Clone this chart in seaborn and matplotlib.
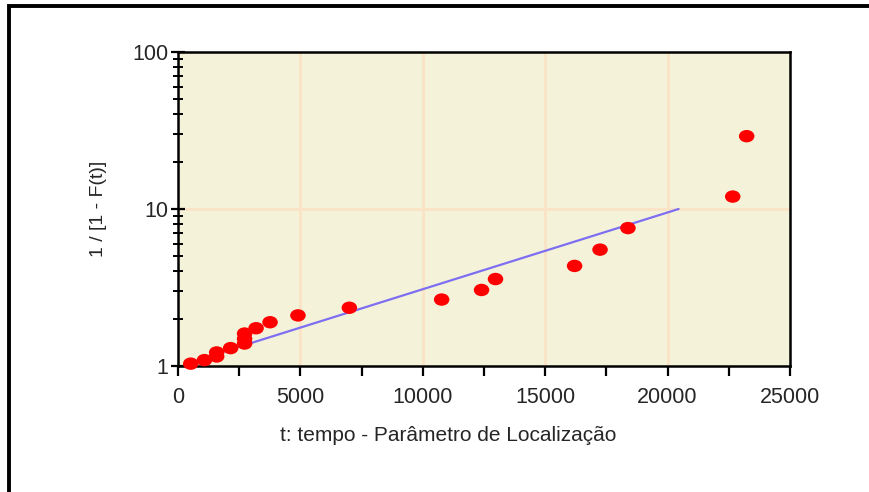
import matplotlib
matplotlib.use("Agg")
import matplotlib.pyplot as plt
import matplotlib.ticker as mticker
from matplotlib.path import Path
from matplotlib.transforms import Affine2D
from matplotlib.patches import Rectangle
import seaborn as sns
import pandas as pd

# Observed failure times and 1/[1 - F(t)] (median ranks, n = 20)
tempo = [520, 1080, 1580, 1580, 2150, 2720, 2720, 2720, 3190, 3760,
         4900, 7000, 10770, 12400, 12970, 16200, 17240, 18380, 22660, 23230]
inv_conf = [1.035, 1.09, 1.15, 1.22, 1.30, 1.39, 1.49, 1.61, 1.74, 1.90,
            2.10, 2.35, 2.65, 3.05, 3.58, 4.34, 5.51, 7.56, 12.0, 29.1]

# Fitted exponential line endpoints
fit_t = [900, 20450]
fit_y = [1.107, 10.0]

x_ticks = [0, 5000, 10000, 15000, 20000, 25000]
y_ticks = [1, 10, 100]

sns.set_theme(style="white")
plt.rcParams["font.family"] = ["Liberation Sans", "DejaVu Sans"]

fig = plt.figure(figsize=(8.7, 4.92), dpi=100)
ax = fig.add_axes([178 / 870, 1 - 366 / 492, 612 / 870, 314 / 492])
ax.set_facecolor("#F4F3DA")

# Outer frame (top and left edges visible)
fig.add_artist(Rectangle((9 / 870, -0.2), 1.5, 1.2 - 6 / 492,
                         transform=fig.transFigure, fill=False,
                         edgecolor="black", linewidth=2.8, clip_on=False))

df_pts = pd.DataFrame({"t": tempo, "r": inv_conf})
df_fit = pd.DataFrame({"t": fit_t, "r": fit_y})

ellipse = Path.unit_circle().transformed(Affine2D().scale(1.25, 1.0))

ax.set_yscale("log")
ax.set_xlim(0, 25000)
ax.set_ylim(1, 100)

# grid
for xv in x_ticks[1:-1]:
    ax.axvline(xv, color="#FBE3C6", lw=2, zorder=0)
ax.axhline(10, color="#FBE3C6", lw=2, zorder=0)

sns.lineplot(data=df_fit, x="t", y="r", ax=ax, color="#7E6EF2", lw=1.6, zorder=2)
sns.scatterplot(data=df_pts, x="t", y="r", ax=ax, marker=ellipse, s=125,
                color="#FF0000", edgecolor="none", linewidth=0, zorder=3,
                clip_on=False)

ax.set_xticks(x_ticks)
ax.set_xticklabels([str(v) for v in x_ticks])
ax.xaxis.set_minor_locator(mticker.MultipleLocator(2500))
ax.set_yticks(y_ticks)
ax.set_yticklabels([str(v) for v in y_ticks])
ax.yaxis.set_minor_locator(mticker.LogLocator(base=10, subs=range(2, 10)))
ax.yaxis.set_minor_formatter(mticker.NullFormatter())

ax.tick_params(axis="x", which="both", direction="out", length=7, width=1.6,
               color="black", labelsize=15.5, pad=8, bottom=True)
ax.tick_params(axis="y", which="major", direction="inout", length=10, width=1.6,
               color="black", labelsize=15.5, pad=2, left=True)
ax.tick_params(axis="y", which="minor", direction="inout", length=7, width=1.4,
               color="black", left=True)

for s in ax.spines.values():
    s.set_color("black")
    s.set_linewidth(1.8)

ax.set_xlabel("t: tempo - Parâmetro de Localização", fontsize=15)
ax.xaxis.set_label_coords(0.441, -0.19)
ax.set_ylabel("1 / [1 - F(t)]", fontsize=14)
ax.yaxis.set_label_coords(-0.116, 0.5)

fig.savefig("out.png", dpi=100, facecolor="white")
